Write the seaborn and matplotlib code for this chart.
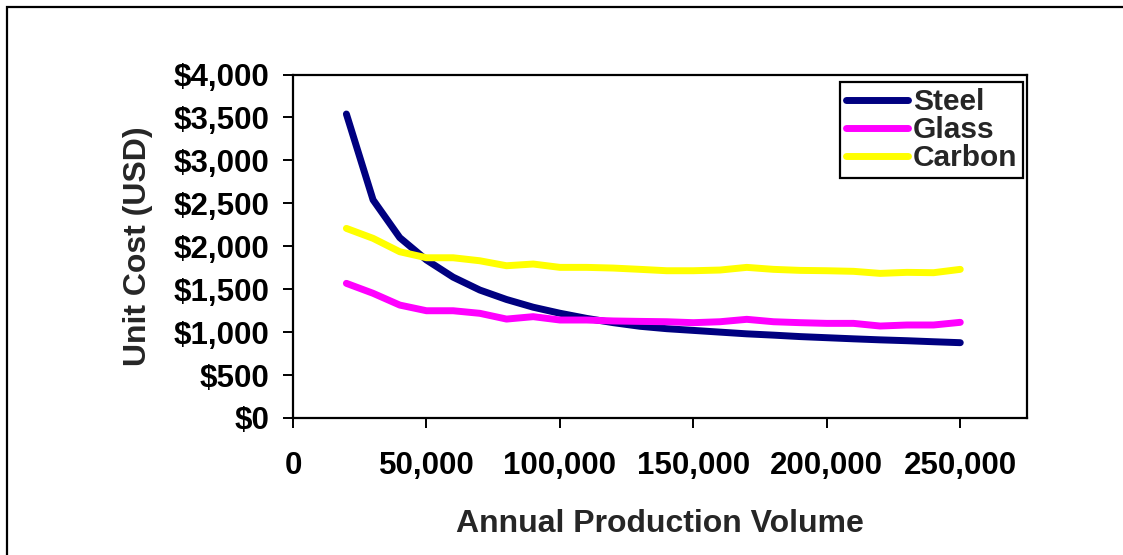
import numpy as np
import pandas as pd
import matplotlib
matplotlib.use("Agg")
import matplotlib.pyplot as plt
from matplotlib.patches import Rectangle
from matplotlib.ticker import FuncFormatter, MultipleLocator
import seaborn as sns

# Annual production volume (units per year)
volume = [20000, 30000, 40000, 50000, 60000, 70000, 80000, 90000, 100000,
          110000, 120000, 130000, 140000, 150000, 160000, 170000, 180000,
          190000, 200000, 210000, 220000, 230000, 240000, 250000]

# Unit cost (USD) by body material
steel = [3540, 2540, 2100, 1840, 1640, 1490, 1380, 1290, 1220,
         1160, 1110, 1068, 1040, 1020, 1000, 980, 965,
         948, 935, 922, 910, 900, 888, 877]
glass = [1568, 1452, 1315, 1249, 1249, 1219, 1152, 1180, 1141,
         1141, 1130, 1125, 1121, 1110, 1121, 1149, 1121,
         1110, 1102, 1102, 1071, 1083, 1083, 1114]
carbon = [2208, 2092, 1936, 1866, 1866, 1831, 1773, 1793, 1754,
          1754, 1746, 1731, 1715, 1715, 1723, 1754, 1731,
          1719, 1715, 1708, 1684, 1696, 1692, 1731]

materials = ["Steel", "Glass", "Carbon"]
colors = ["#000080", "#FF00FF", "#FFFF00"]

df = pd.DataFrame({
    "Annual Production Volume": volume * 3,
    "Unit Cost (USD)": steel + glass + carbon,
    "Material": sum([[m] * len(volume) for m in materials], []),
})

sns.set_style("white")
plt.rcParams["font.family"] = ["Liberation Sans", "DejaVu Sans"]
plt.rcParams["font.weight"] = "bold"

fig = plt.figure(figsize=(11.23, 5.55), dpi=100)
ax = fig.add_axes([293 / 1123, 1 - 418 / 555, (1027 - 293) / 1123, (418 - 74.5) / 555])

sns.lineplot(data=df, x="Annual Production Volume", y="Unit Cost (USD)",
             hue="Material", palette=dict(zip(materials, colors)),
             linewidth=5, ax=ax, legend=True)
for line in ax.get_lines():
    line.set_solid_capstyle("round")
    line.set_solid_joinstyle("round")

ax.set_xlim(0, 275000)
ax.set_ylim(0, 4000)
ax.xaxis.set_major_locator(MultipleLocator(50000))
ax.yaxis.set_major_locator(MultipleLocator(500))
ax.xaxis.set_major_formatter(FuncFormatter(lambda v, p: f"{int(v):,}"))
ax.yaxis.set_major_formatter(FuncFormatter(lambda v, p: f"${int(v):,}"))

for s in ax.spines.values():
    s.set_visible(True)
    s.set_color("black")
    s.set_linewidth(1.6)

ax.tick_params(axis="both", which="major", direction="out", length=7, width=1.4,
               color="black", labelsize=22.5, labelcolor="black", left=True, bottom=True)
ax.tick_params(axis="y", pad=10)
ax.tick_params(axis="x", pad=17)
for lbl in ax.get_xticklabels() + ax.get_yticklabels():
    lbl.set_fontweight("bold")

ax.set_xlabel("Annual Production Volume", fontsize=23, fontweight="bold", labelpad=20)
ax.set_ylabel("Unit Cost (USD)", fontsize=23, fontweight="bold", labelpad=15)

handles, labels = ax.get_legend_handles_labels()
leg = ax.legend(handles, labels, loc="upper right", bbox_to_anchor=(0.995, 0.978),
                borderaxespad=0, frameon=True, fancybox=False, framealpha=1,
                edgecolor="black", handlelength=2.1, handletextpad=0.15,
                labelspacing=0.0, borderpad=0.2, prop={"weight": "bold", "size": 21.5})
leg.get_frame().set_linewidth(1.6)
for h in leg.get_lines():
    h.set_linewidth(5)
    h.set_solid_capstyle("round")

# outer chart-area border
fig.patches.append(Rectangle((7 / 1123, -0.2), 1.2, 1.2 - 6.5 / 555,
                             transform=fig.transFigure, fill=False,
                             edgecolor="black", linewidth=1.6))

fig.savefig("out.png", dpi=100, facecolor="white")
